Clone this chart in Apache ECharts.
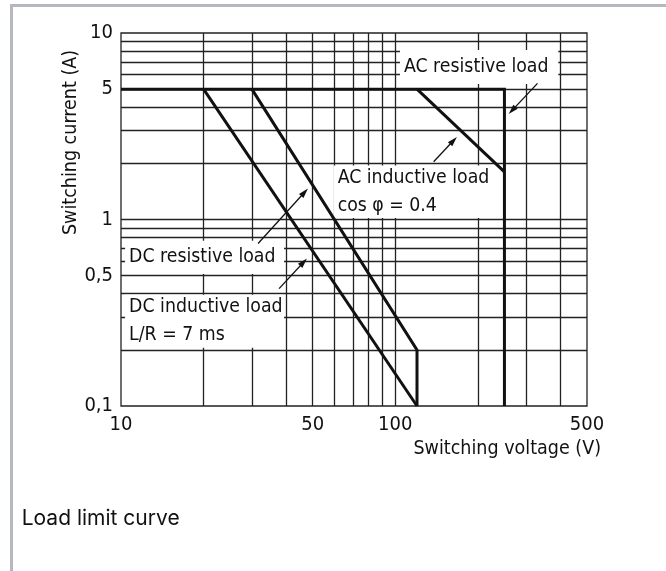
<!DOCTYPE html>
<html><head><meta charset="utf-8">
<script src="https://cdn.jsdelivr.net/npm/echarts@6/dist/echarts.min.js"></script>
<style>
html,body{margin:0;padding:0;background:#fff;}
#frame{position:absolute;left:10px;top:4px;width:656px;height:567px;border-left:3px solid #b5b8be;border-top:3px solid #b5b8be;box-sizing:border-box;}
#chart{position:absolute;left:0;top:0;width:666px;height:571px;}
</style></head><body>
<div id="frame"></div><div id="chart"></div>
<script>
// Tick labels
const xTickLabels = [10, 50, 100, 500];
const yTickLabels = [0.1, 0.5, 1, 5, 10];
// Grid line values (log paper)
const xGridValues = [20, 30, 40, 50, 60, 70, 80, 90, 100, 200, 300, 400];
const yGridValues = [0.2, 0.3, 0.4, 0.5, 0.6, 0.7, 0.8, 0.9, 1, 2, 3, 4, 5, 6, 7, 8, 9];
// Curves [voltage V, current A]
const acResistive = [[10, 5], [250, 5], [250, 0.1]];
const acInductive = [[120, 5], [250, 1.8]];
const dcResistive = [[30, 5], [120, 0.2], [120, 0.1]];
const dcInductive = [[20, 5], [120, 0.1]];
// Annotations
const labelTexts = ['AC resistive load', 'AC inductive load\ncos φ = 0.4', 'DC resistive load', 'DC inductive load\nL/R = 7 ms'];
const labelBoxFrom = [[104, 8.1], [59.6, 1.95], [10.35, 0.77], [10.35, 0.395]];
const labelBoxTo = [[393, 5.32], [246, 1.02], [39.3, 0.51], [39.3, 0.205]];
const arrowTails = [[330, 5.37], [138, 2.04], [31.6, 0.743], [37.7, 0.426]];
const arrowHeads = [[266.6, 3.845], [163, 2.65], [46.7, 1.401], [46.3, 0.59]];

const FONT = '"DejaVu Sans Condensed", "Liberation Sans Narrow", "DejaVu Sans", sans-serif';
const fmt = v => String(Math.round(v * 10) / 10).replace('.', ',');

const chart = echarts.init(document.getElementById('chart'), null, {renderer: 'canvas'});
const curveStyle = {color: '#111', width: 3, join: 'miter', cap: 'butt'};
function curve(name, data, extra) {
  return Object.assign({
    type: 'line', name: name, data: data, symbol: 'none', showSymbol: false,
    z: 3, silent: true, animation: false, color: '#111', lineStyle: curveStyle
  }, extra || {});
}
const gridLines = xGridValues.map(v => ({xAxis: v})).concat(yGridValues.map(v => ({yAxis: v})));
const ARROW = 'path://M0,0L3,10L-3,10Z';

const option = {
  animation: false,
  grid: {left: 121, right: 79, top: 33, bottom: 165, show: true, borderColor: '#222', borderWidth: 1.3, containLabel: false},
  xAxis: {
    type: 'log', logBase: 10, min: 10, max: 500,
    axisLine: {show: false}, axisTick: {show: false}, splitLine: {show: false},
    axisLabel: {customValues: xTickLabels, margin: 9, fontSize: 20, fontFamily: FONT, color: '#111', formatter: v => fmt(v)}
  },
  yAxis: {
    type: 'log', logBase: 10, min: 0.1, max: 10,
    axisLine: {show: false}, axisTick: {show: false}, splitLine: {show: false},
    axisLabel: {customValues: yTickLabels, margin: 8, fontSize: 20, fontFamily: FONT, color: '#111', formatter: v => fmt(v)}
  },
  series: [
    curve('AC resistive load', acResistive, {
      markLine: {
        z: 1, silent: true, animation: false, symbol: 'none',
        label: {show: false}, emphasis: {disabled: true},
        lineStyle: {color: '#222', width: 1.3, type: 'solid'},
        data: gridLines
      }
    }),
    curve('AC inductive load', acInductive, {
      markArea: {
        z: 2, silent: true, animation: false,
        itemStyle: {color: '#fff', borderWidth: 0},
        label: {show: true, position: 'insideLeft', distance: 4, fontSize: 19.3, lineHeight: 28,
          fontFamily: FONT, color: '#111', formatter: p => p.name},
        emphasis: {disabled: true},
        data: labelTexts.map((t, i) => [{coord: labelBoxFrom[i], name: t}, {coord: labelBoxTo[i]}])
      }
    }),
    curve('DC resistive load', dcResistive, {
      markLine: {
        z: 4, silent: true, animation: false,
        symbol: ['none', ARROW], symbolSize: 10, symbolKeepAspect: true,
        itemStyle: {color: '#111'},
        label: {show: false}, emphasis: {disabled: true},
        lineStyle: {color: '#111', width: 1.3, type: 'solid'},
        data: arrowTails.map((t, i) => [{coord: t}, {coord: arrowHeads[i]}])
      }
    }),
    curve('DC inductive load', dcInductive)
  ],
  graphic: [
    {type: 'text', x: 71, y: 142.5, rotation: Math.PI / 2,
      style: {text: 'Switching current (A)', fontSize: 19.5, fontFamily: FONT, fill: '#111', align: 'center', verticalAlign: 'middle'}},
    {type: 'text', x: 601, y: 449,
      style: {text: 'Switching voltage (V)', fontSize: 19.5, fontFamily: FONT, fill: '#111', align: 'right', verticalAlign: 'middle'}},
    {type: 'text', x: 21.7, y: 518.7,
      style: {text: 'Load limit curve', fontSize: 21, fontFamily: 'Inter, Roboto, sans-serif', fill: '#111', align: 'left', verticalAlign: 'middle'}}
  ]
};
chart.setOption(option);
</script></body></html>
